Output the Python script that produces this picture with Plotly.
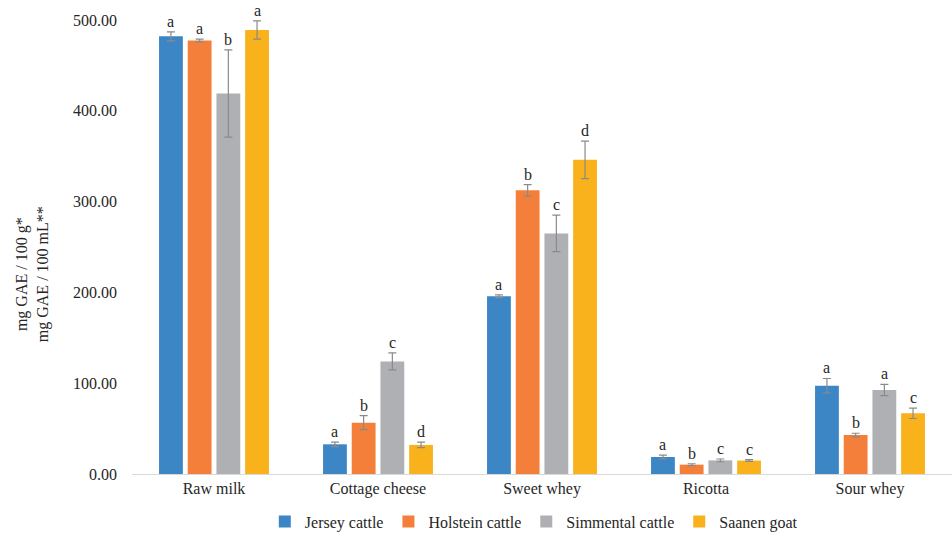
import plotly.graph_objects as go

# Total phenolic content by dairy product and milk source
products = ["Raw milk", "Cottage cheese", "Sweet whey", "Ricotta", "Sour whey"]
sources = ["Jersey cattle", "Holstein cattle", "Simmental cattle", "Saanen goat"]

jersey = [482, 32.7, 195.7, 18.7, 97.2]
holstein = [477.5, 56.5, 312.4, 10.3, 42.9]
simmental = [419, 124, 265, 15.0, 92.5]
saanen = [489, 32, 346, 14.8, 66.8]

jersey_err = [5, 2.5, 1.5, 2, 8]
holstein_err = [1.5, 7.7, 6.4, 1, 2]
simmental_err = [48, 9.4, 20, 1.5, 6.2]
saanen_err = [10, 3, 20.7, 1, 5.7]

jersey_lbl = ["a", "a", "a", "a", "a"]
holstein_lbl = ["a", "b", "b", "b", "b"]
simmental_lbl = ["b", "c", "c", "c", "a"]
saanen_lbl = ["a", "d", "d", "c", "c"]

y_ticks = [0, 100, 200, 300, 400, 500]

colors = ["#3D86C6", "#F47F3A", "#AFB0B3", "#F9B21B"]
series = [jersey, holstein, simmental, saanen]
errors = [jersey_err, holstein_err, simmental_err, saanen_err]
letters = [jersey_lbl, holstein_lbl, simmental_lbl, saanen_lbl]

FONT = "Liberation Serif"

fig = go.Figure()
for name, vals, err, col in zip(sources, series, errors, colors):
    fig.add_trace(go.Bar(
        name=name, x=products, y=vals, marker_color=col,
        marker_line_width=0,
        error_y=dict(type="data", array=err, visible=True,
                     color="#8A8A8A", thickness=1.2, width=4),
    ))

fig.update_layout(
    barmode="group", bargap=0.3, bargroupgap=0.17,
    width=952, height=540,
    margin=dict(l=132, r=0, t=20, b=66),
    paper_bgcolor="white", plot_bgcolor="white",
    font=dict(family=FONT, size=15, color="#262626"),
    showlegend=True,
    legend=dict(orientation="h", x=0.49, xanchor="center", y=-0.105,
                yanchor="middle", font=dict(size=16, family=FONT),
                itemwidth=30, tracegroupgap=0),
)

fig.update_xaxes(showline=True, linecolor="#D9D9D9", linewidth=1,
                 ticks="", tickfont=dict(size=16, family=FONT))
fig.update_yaxes(range=[0, 500], tickvals=y_ticks,
                 ticktext=[f"{v:.2f}" for v in y_ticks],
                 showgrid=False, zeroline=False, showline=False,
                 ticklabelstandoff=14, tickfont=dict(size=16, family=FONT))

# Significance letters above each error bar
n = len(sources)
slot = 0.7 / n
for i in range(n):
    offset = -0.35 + slot * (i + 0.5)
    for j, p in enumerate(products):
        fig.add_annotation(
            x=j + offset, y=series[i][j] + errors[i][j],
            xref="x", yref="y", text=letters[i][j], showarrow=False,
            yanchor="bottom", yshift=0,
            font=dict(size=16, family=FONT, color="#262626"),
        )

fig.add_annotation(
    xref="paper", yref="paper", x=-0.122, y=0.44,
    text="mg GAE / 100 g*<br>mg GAE / 100 mL**",
    textangle=-90, showarrow=False, xanchor="center", yanchor="middle",
    font=dict(size=16, family=FONT, color="#262626"),
)

fig.write_html("out.html")
